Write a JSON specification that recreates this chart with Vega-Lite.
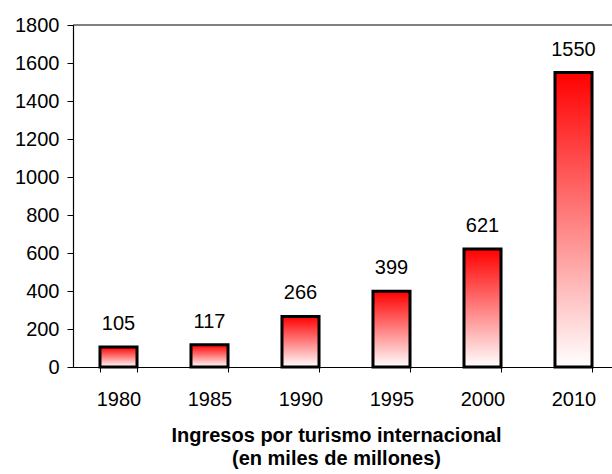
{
  "$schema": "https://vega.github.io/schema/vega-lite/v6.json",
  "autosize": {"type": "none"},
  "width": 546,
  "height": 342,
  "padding": {"left": 73, "top": 25, "right": -7, "bottom": 107},
  "background": "white",
  "config": {
    "view": {"stroke": null},
    "font": "Liberation Sans",
    "axis": {"labelFont": "Liberation Sans", "titleFont": "Liberation Sans", "labelColor": "black", "titleColor": "black", "domainColor": "black", "tickColor": "black", "grid": false}
  },
  "layer": [
    {
      "data": {"values": [{"top": 1800}]},
      "mark": {"type": "rule", "color": "black", "strokeWidth": 1},
      "encoding": {"y": {"field": "top", "type": "quantitative", "scale": {"domain": [0, 1800], "nice": false},
        "axis": {"title": null, "values": [0,200,400,600,800,1000,1200,1400,1600,1800], "format": "d", "labelOverlap": false, "labelFontSize": 20, "labelPadding": 8, "tickSize": 6, "domainWidth": 1.2}}}
    },
    {
      "data": {"values": [
        {"year": "1980", "value": 105},
        {"year": "1985", "value": 117},
        {"year": "1990", "value": 266},
        {"year": "1995", "value": 399},
        {"year": "2000", "value": 621},
        {"year": "2010", "value": 1550}
      ]},
      "encoding": {
        "x": {
          "field": "year", "type": "ordinal",
          "scale": {"paddingInner": 0.593, "paddingOuter": 0.2965},
          "axis": {
            "title": ["Ingresos por turismo internacional", "(en miles de millones)"],
            "titleFontSize": 20, "titleFontWeight": "bold", "titlePadding": 16, "titleLineHeight": 23, "titleX": 263,
            "labelAngle": 0, "labelFontSize": 20, "labelPadding": 17,
            "tickBand": "extent", "tickSize": 5, "domainWidth": 1.2
          }
        },
        "y": {
          "field": "value", "type": "quantitative",
          "scale": {"domain": [0, 1800], "nice": false},
          "axis": {"title": null, "values": [0,200,400,600,800,1000,1200,1400,1600,1800], "format": "d", "labelOverlap": false, "labelFontSize": 20, "labelPadding": 8, "tickSize": 6, "domainWidth": 1.2}
        }
      },
      "layer": [
        {
          "mark": {
            "type": "bar",
            "stroke": "black",
            "strokeWidth": 3,
            "fill": {
              "gradient": "linear", "x1": 0, "y1": 0, "x2": 0, "y2": 1,
              "stops": [{"offset": 0, "color": "#ff0000"}, {"offset": 1, "color": "#ffffff"}]
            }
          }
        },
        {
          "mark": {"type": "text", "baseline": "alphabetic", "dy": -17, "fontSize": 20, "color": "black"},
          "encoding": {"text": {"field": "value", "type": "quantitative"}}
        }
      ]
    }
  ]
}
